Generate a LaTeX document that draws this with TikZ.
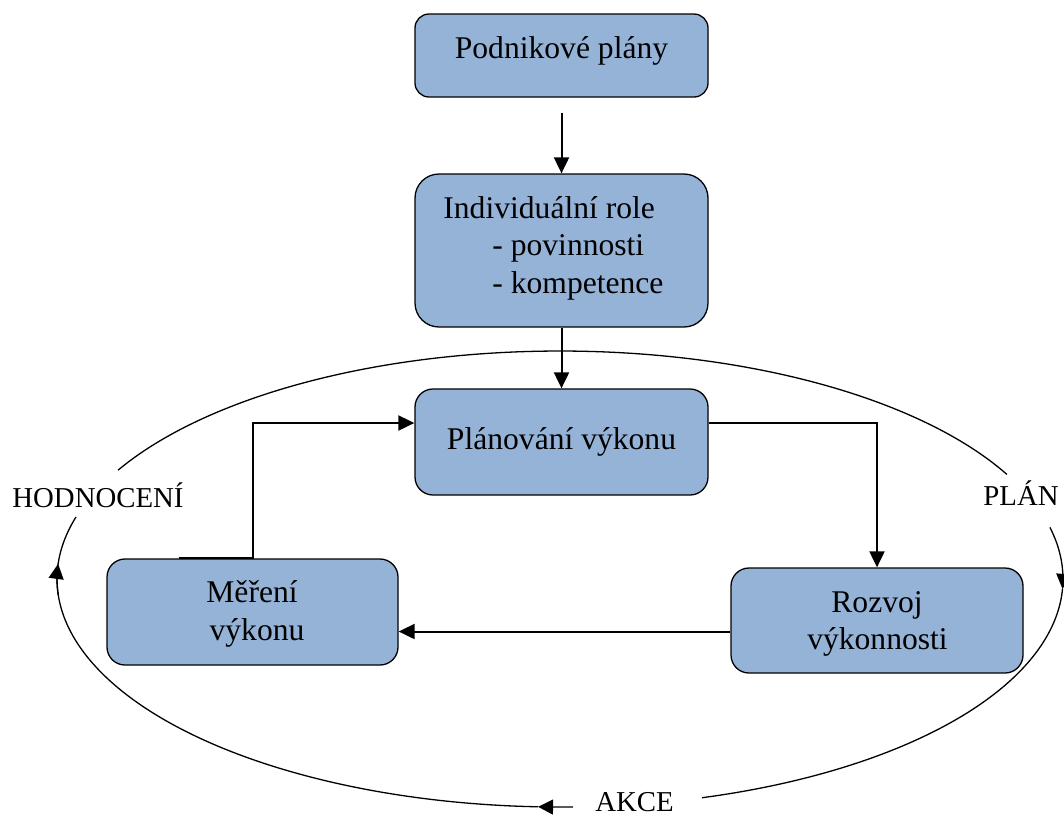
\documentclass[tikz,border=0pt]{standalone}
\usepackage{fontspec}
\setmainfont{Liberation Serif}
\usetikzlibrary{arrows.meta}
\definecolor{boxblue}{HTML}{95B3D7}
\begin{document}
\begin{tikzpicture}[x=0.5pt,y=-0.5pt,
 box/.style={draw=black, line width=0.65pt, fill=boxblue, inner sep=0pt},
 conn/.style={line width=1pt, -{Triangle[length=8pt,width=7.5pt]}},
 cyc/.style={line width=0.65pt},
 cycarr/.style={line width=0.65pt, -{Triangle[length=7.5pt,width=7.5pt]}},
 txt/.style={font=\fontsize{15.8}{18.5}\selectfont, inner sep=0pt},
 lbl/.style={font=\fontsize{14.4}{17}\selectfont, inner sep=0pt}]
\useasboundingbox (0,0) rectangle (1064,816);
% boxes
\node[box, minimum width=146.5pt, minimum height=41.5pt, rounded corners=7pt] (a) at (561.5,55.5) {};
\node[box, minimum width=146.5pt, minimum height=76.5pt, rounded corners=12pt] (b) at (561.5,250.5) {};
\node[box, minimum width=146.5pt, minimum height=53pt, rounded corners=9pt] (p) at (561.5,442) {};
\node[box, minimum width=145.5pt, minimum height=53pt, rounded corners=9pt] (m) at (252.5,612) {};
\node[box, minimum width=146pt, minimum height=52.5pt, rounded corners=9pt] (r) at (877,620.5) {};
% texts
\node[txt, anchor=base] (ta) at (561.5,58) {Podnikové plány};
\node[txt, anchor=base west] (tb1) at (443,218) {Individuální role};
\node[txt, anchor=base west] (tb2) at (492,255) {- povinnosti};
\node[txt, anchor=base west] (tb3) at (492,293) {- kompetence};
\node[txt, anchor=base] (tp) at (561.5,449) {Plánování výkonu};
\node[txt, anchor=base] (tm1) at (252,602) {Měření};
\node[txt, anchor=base] (tm2) at (257,640) {výkonu};
\node[txt, anchor=base] (tr1) at (877,612) {Rozvoj};
\node[txt, anchor=base] (tr2) at (877.5,649) {výkonnosti};
% connectors
\coordinate (a0) at ([yshift=-7.5pt]a.south);
\draw[conn] (a0) -- (b.north);
\draw[conn] (b.south) -- (p.north);
\draw[conn] ([yshift=9.5pt]p.east) -| (r.north);
\draw[conn] ([yshift=-5.5pt]r.west) -- ([yshift=-5.5pt]r.west -| m.east);
\coordinate (m0) at ([xshift=-37pt]m.north);
\draw[conn] (m0) -- (m.north) |- ([yshift=9.5pt]p.west);
% cycle labels
\node[lbl, anchor=base west] (hod) at (12,507) {HODNOCENÍ};
\node[lbl, anchor=base west] (plan) at (983,505) {PLÁN};
\node[lbl, anchor=base west] (akce) at (595,811) {AKCE};
% cycle ellipse
\draw[cyc] plot[domain=151.5:27.3, samples=100, smooth] ({560+503*cos(\x)},{579-228*sin(\x)});
\draw[cycarr] plot[domain=13.1:-2.5, samples=20, smooth] ({560+503*cos(\x)},{579-228*sin(\x)});
\draw[cyc] plot[domain=-2.5:-73.6, samples=60, smooth] ({560+503*cos(\x)},{579-228*sin(\x)});
\draw[cycarr] plot[domain=271.5:267.5, samples=5, smooth] ({560+503*cos(\x)},{579-228*sin(\x)});
\draw[cyc] plot[domain=267.5:176.2, samples=80, smooth] ({560+503*cos(\x)},{579-228*sin(\x)});
\draw[cycarr] plot[domain=184:176.2, samples=8, smooth] ({560+503*cos(\x)},{579-228*sin(\x)});
\draw[cyc] plot[domain=176.2:164.2, samples=12, smooth] ({560+503*cos(\x)},{579-228*sin(\x)});
\end{tikzpicture}
\end{document}
